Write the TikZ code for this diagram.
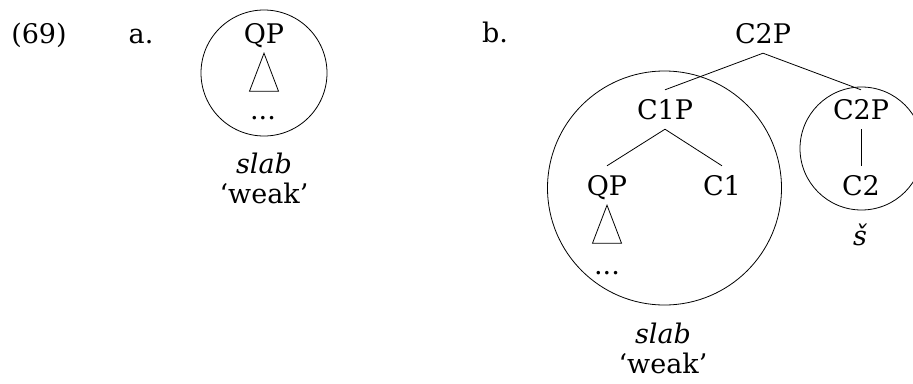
\documentclass[tikz,border=0pt]{standalone}
\usepackage{fontspec}
\setmainfont{DejaVu Serif}
\begin{document}
\begin{tikzpicture}[x=1pt,y=-1pt,
  every node/.style={font=\fontsize{27}{32}\selectfont},
  cat/.style={anchor=base, inner xsep=0pt, inner ysep=10pt, text height=19pt, text depth=0pt},
  txt/.style={anchor=base, inner sep=0pt},
  edge/.style={line width=0.8pt},
  ring/.style={line width=0.8pt}]
\useasboundingbox (0,0) rectangle (913,383);
% labels
\node[txt] (ex) at (39,43) {(69)};
\node[txt] (la) at (141,43) {a.};
\node[txt] (lb) at (495,42) {b.};
% (a)
\node[cat] (qpa) at (264,43) {QP};
\draw[edge] (qpa.south) -- ++(-14.5,38) -- ++(29,0) -- cycle;
\node[txt] (dotsa) at (263,119) {...};
\draw[ring] (264,73) circle (63);
\node[txt] (slaba) at (264,173) {\itshape slab};
\node[txt] (weaka) at (264,203) {‘weak’};
% (b)
\node[cat] (root) at (763,43) {C2P};
\node[cat] (c1p) at (665,119) {C1P};
\node[cat] (c2p) at (861,119) {C2P};
\node[cat] (qpb) at (607,195) {QP};
\node[cat] (c1) at (722,195) {C1};
\node[cat] (c2) at (861,195) {C2};
\draw[edge] (root.south) -- (c1p.north);
\draw[edge] (root.south) -- (c2p.north);
\draw[edge] (c1p.south) -- (qpb.north);
\draw[edge] (c1p.south) -- (c1.north);
\draw[edge] (c2p.south) -- (c2.north);
\draw[edge] (qpb.south) -- ++(-14.5,38) -- ++(29,0) -- cycle;
\node[txt] (dotsb) at (607,274) {...};
\draw[ring] (664.5,188) circle (117);
\draw[ring] (861.5,148.5) circle (61.5);
\node[txt] (sh) at (860,245) {\itshape š};
\node[txt] (slabb) at (663,343) {\itshape slab};
\node[txt] (weakb) at (663,373) {‘weak’};
\end{tikzpicture}
\end{document}
